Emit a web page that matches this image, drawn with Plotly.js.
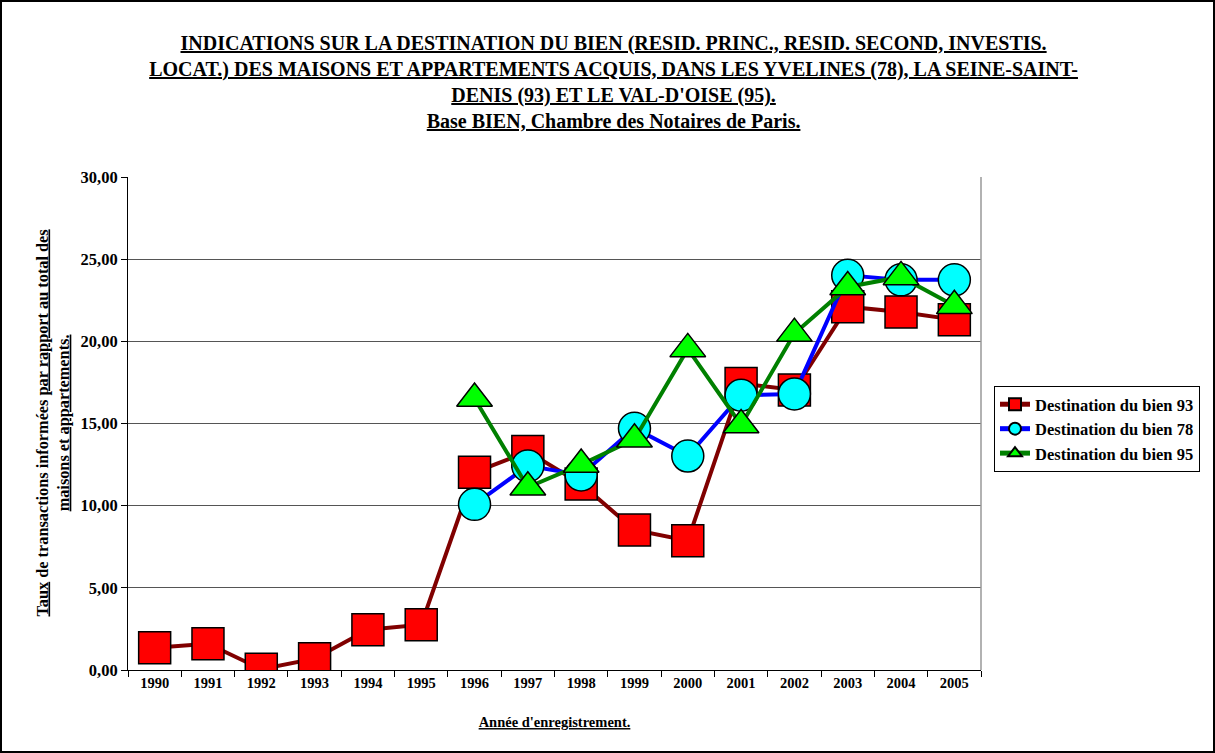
<!DOCTYPE html>
<html>
<head>
<meta charset="utf-8">
<script src="https://cdn.plot.ly/plotly-3.0.1.min.js"></script>
<style>
  html, body { margin: 0; padding: 0; background: #fff; }
  #chart { width: 1215px; height: 753px; }
</style>
</head>
<body>
<div id="chart"></div>
<script>
const years = ['1990','1991','1992','1993','1994','1995','1996','1997','1998','1999','2000','2001','2002','2003','2004','2005'];
const dest93 = [1.36, 1.60, 0.05, 0.69, 2.45, 2.76, 12.03, 13.29, 11.32, 8.52, 7.87, 17.43, 17.04, 22.11, 21.79, 21.32];
const dest78 = [null, null, null, null, null, null, 10.08, 12.42, 11.87, 14.71, 13.02, 16.72, 16.80, 24.02, 23.74, 23.74];
const dest95 = [null, null, null, null, null, null, 16.52, 11.12, 12.50, 14.04, 19.54, 14.91, 20.47, 23.31, 23.92, 22.16];
const seriesNames = ['Destination du bien 93', 'Destination du bien 78', 'Destination du bien 95'];
const yTicks = [0, 5, 10, 15, 20, 25, 30];

const FONT = 'Liberation Serif, Times New Roman, serif';

const traces = [
  {
    x: years, y: dest93, name: seriesNames[0], type: 'scatter', mode: 'lines+markers',
    line: {color: '#800000', width: 4},
    marker: {symbol: 'square', size: 32, color: '#FF0000', line: {color: '#000', width: 1.5}}
  },
  {
    x: years, y: dest78, name: seriesNames[1], type: 'scatter', mode: 'lines+markers',
    line: {color: '#0000FF', width: 4},
    marker: {symbol: 'circle', size: 32, color: '#00FFFF', line: {color: '#000', width: 1.5}}
  },
  {
    x: years, y: dest95, name: seriesNames[2], type: 'scatter', mode: 'lines+markers',
    line: {color: '#008000', width: 4},
    marker: {symbol: 'triangle-up', size: 31, color: '#00FF00', line: {color: '#000', width: 1.5}}
  }
];

const L = 128, R = 234, T = 177, B = 83, W = 1215, H = 753;
const pw = W - L - R, ph = H - T - B;

const layout = {
  width: W, height: H,
  margin: {l: L, r: R, t: T, b: B, pad: 0},
  paper_bgcolor: '#fff', plot_bgcolor: '#fff',
  separators: ', ',
  font: {family: FONT, size: 14, color: '#000'},
  showlegend: true,
  title: {
    text: '<b><u>INDICATIONS SUR LA DESTINATION DU BIEN (RESID. PRINC., RESID. SECOND, INVESTIS.</u></b><br>' +
          '<b><u>LOCAT.) DES MAISONS ET APPARTEMENTS ACQUIS, DANS LES YVELINES (78), LA SEINE-SAINT-</u></b><br>' +
          '<b><u>DENIS (93) ET LE VAL-D\'OISE (95).</u></b><br>' +
          '<b><u>Base BIEN, Chambre des Notaires de Paris.</u></b>',
    font: {family: FONT, size: 20, color: '#000'},
    x: 0.505, xanchor: 'center', y: 1 - 50 / H, yanchor: 'top', yref: 'container'
  },
  xaxis: {
    type: 'category', range: [-0.5, 15.5],
    tickson: 'boundaries', ticks: 'outside', ticklen: 6, tickcolor: '#000', tickwidth: 1,
    showline: true, linecolor: '#000', linewidth: 1,
    showgrid: false, zeroline: false, fixedrange: true,
    tickfont: {family: FONT, size: 14.5, color: '#000', weight: 'bold'},
    title: {text: '<b><u>Année d\'enregistrement.</u></b>', font: {family: FONT, size: 14.5, color: '#000'}, standoff: 26}
  },
  yaxis: {
    range: [0, 30], tickvals: yTicks, tickformat: '.2f',
    ticks: 'outside', ticklen: 6, tickcolor: '#000', tickwidth: 1,
    showline: true, linecolor: '#000', linewidth: 1,
    showgrid: true, gridcolor: '#555', gridwidth: 1, zeroline: false, fixedrange: true,
    tickfont: {family: FONT, size: 16.5, color: '#000', weight: 'bold'}
  },
  legend: {
    x: (994 - L) / pw, xanchor: 'left',
    y: (H - B - 386) / ph, yanchor: 'top',
    bgcolor: '#fff', bordercolor: '#000', borderwidth: 1,
    font: {family: FONT, size: 16.5, color: '#000', weight: 'bold'},
    itemsizing: 'constant', tracegroupgap: 0
  },
  annotations: [{
    xref: 'paper', yref: 'paper',
    x: (52 - L) / pw, y: 0.5, xanchor: 'center', yanchor: 'middle',
    textangle: -90, showarrow: false,
    text: '<b><u>Taux</u> de transactions informées <u>par rapport au total des</u></b><br><b><u>maisons et appartements.</u></b>',
    font: {family: FONT, size: 16.3, color: '#000'}
  }],
  shapes: [
    {type: 'line', xref: 'paper', yref: 'paper', x0: 1, x1: 1, y0: 0, y1: 1, line: {color: '#999', width: 1.5}},
    {type: 'rect', xref: 'paper', yref: 'paper',
     x0: (1 - L) / pw, x1: (W - 1 - L) / pw, y0: (H - B - (H - 1)) / ph, y1: (H - B - 1) / ph,
     line: {color: '#000', width: 2}, fillcolor: 'rgba(0,0,0,0)'}
  ]
};

Plotly.newPlot('chart', traces, layout, {displayModeBar: false, staticPlot: true});
</script>
</body>
</html>
